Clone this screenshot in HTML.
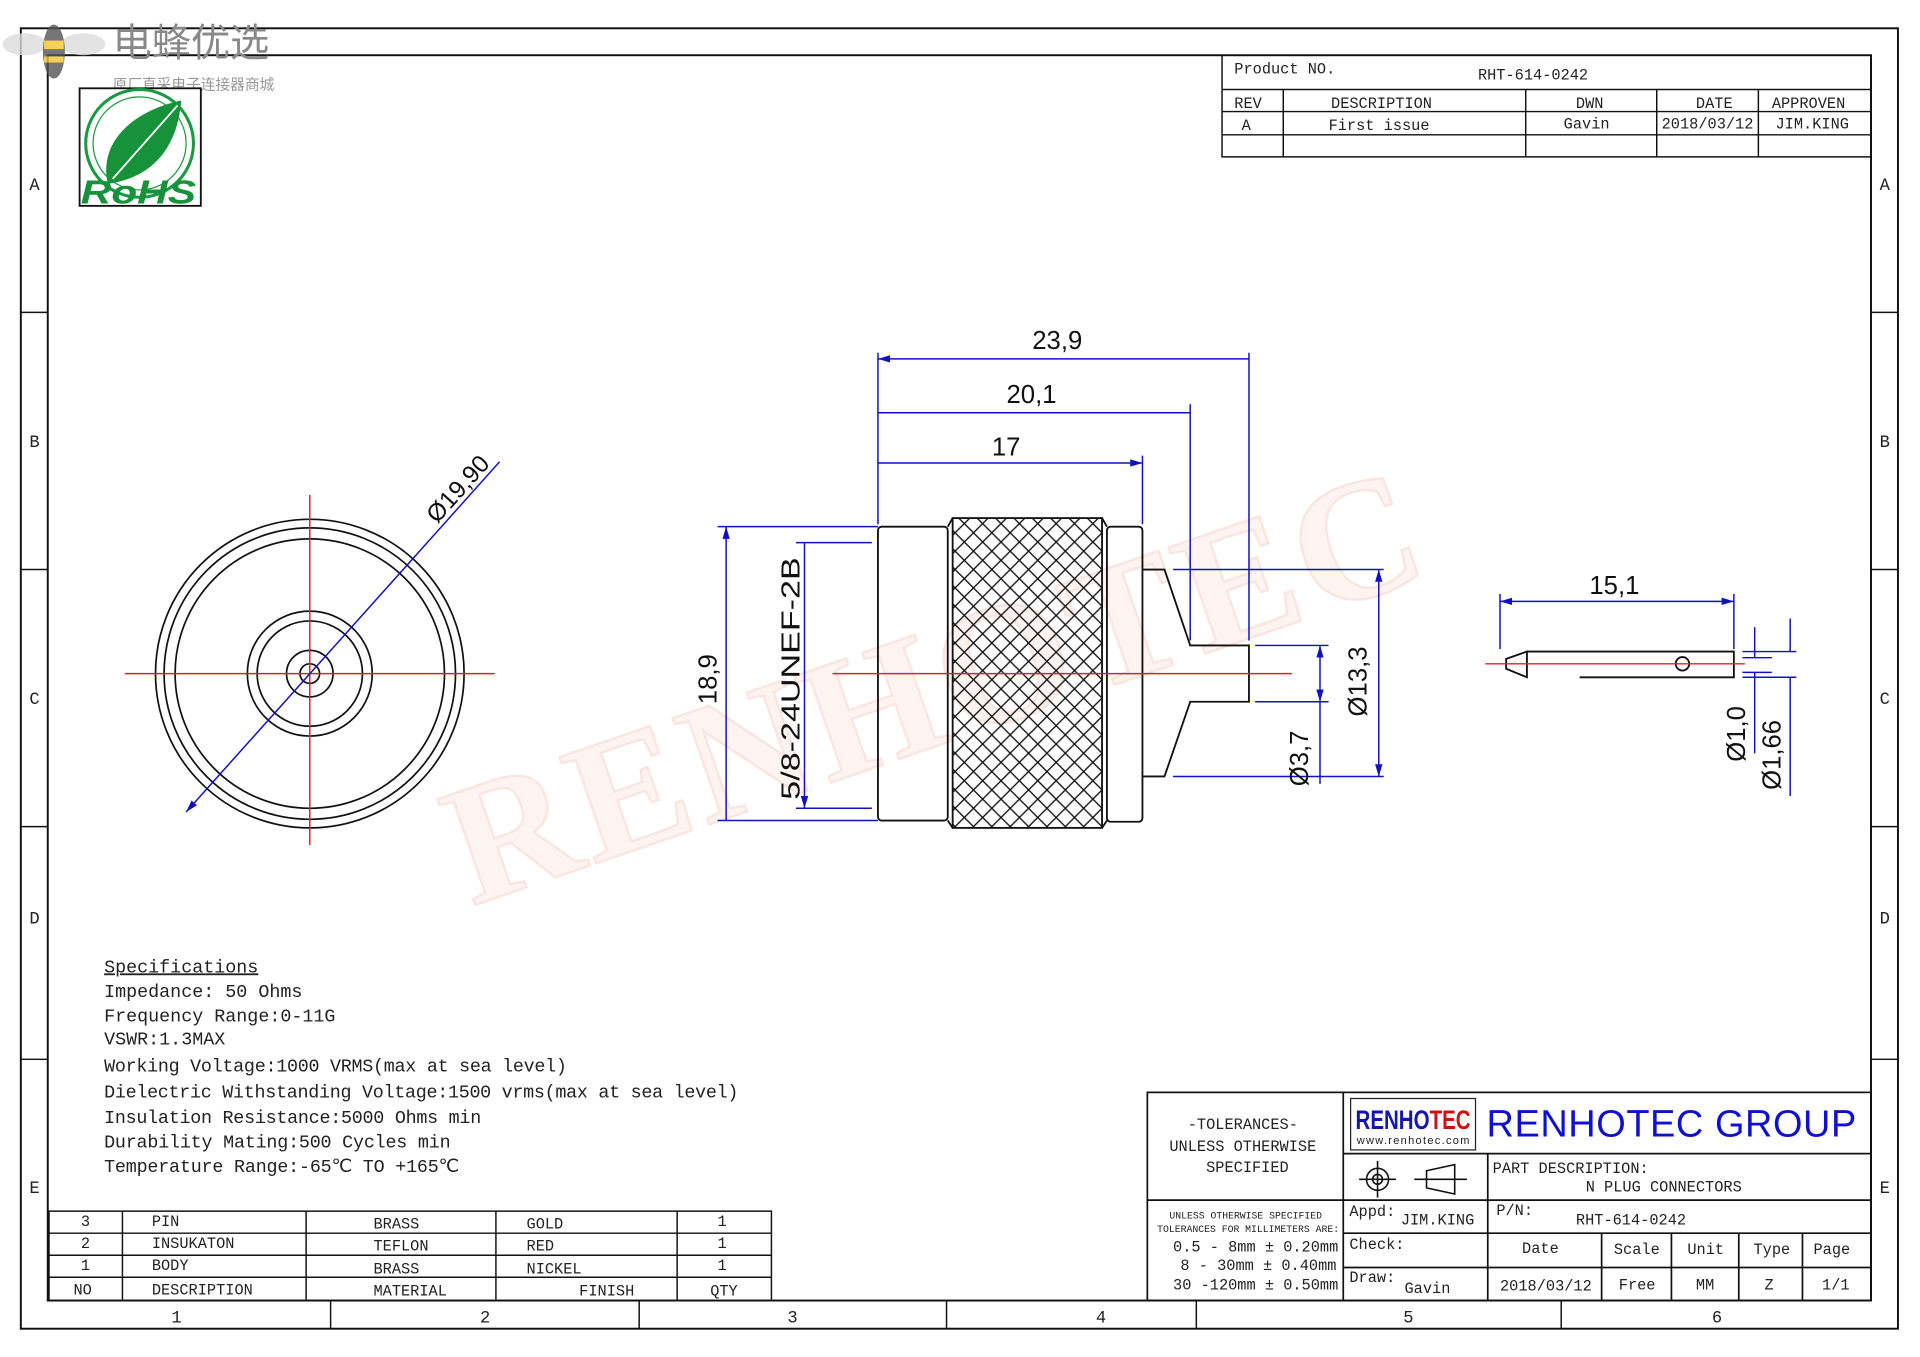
<!DOCTYPE html>
<html><head><meta charset="utf-8"><style>
html,body{margin:0;padding:0;background:#fff;width:1920px;height:1357px;overflow:hidden}
svg{display:block}
.t{font-family:"Liberation Mono",monospace;fill:#222}
.s{font-family:"Liberation Sans",sans-serif}
</style></head><body>
<svg width="1920" height="1357" viewBox="0 0 1568 1108" xmlns="http://www.w3.org/2000/svg">
<defs>
<pattern id="kn" width="15" height="15" patternUnits="userSpaceOnUse">
<path d="M0 0L15 15M15 0L0 15" stroke="#111" stroke-width="1.1"/>
</pattern>
<marker id="a" viewBox="0 0 10 6" refX="10" refY="3" markerWidth="10" markerHeight="6" orient="auto-start-reverse" markerUnits="userSpaceOnUse"><path d="M0 0L10 3L0 6z" fill="#1010c0"/></marker>
</defs>
<rect width="1568" height="1108" fill="#fff"/>
<!-- watermark -->
<text x="0" y="0" transform="translate(385,740) rotate(-19)" font-family="Liberation Serif,serif" font-weight="bold" font-size="140" fill="#fdeeea" stroke="#f8d4cc" stroke-width="2" opacity="0.6" textLength="830">RENHOTEC</text>
<!-- frames -->
<rect x="17" y="23" width="1533" height="1062" fill="none" stroke="#111" stroke-width="1.6"/>
<rect x="39" y="45" width="1489" height="1017" fill="none" stroke="#111" stroke-width="1.6"/>
<g stroke="#111" stroke-width="1.2">
<path d="M17 255H39M17 465H39M17 675H39M17 865H39M1528 255H1550M1528 465H1550M1528 675H1550M1528 865H1550"/>
<path d="M270 1062V1085M522 1062V1085M773 1062V1085M977 1062V1085M1275 1062V1085"/>
</g>
<g class="t" font-size="14">
<text x="24" y="155">A</text><text x="24" y="365">B</text><text x="24" y="575">C</text><text x="24" y="754">D</text><text x="24" y="974">E</text>
<text x="1535" y="155">A</text><text x="1535" y="365">B</text><text x="1535" y="575">C</text><text x="1535" y="754">D</text><text x="1535" y="974">E</text>
<text x="140" y="1080">1</text><text x="392" y="1080">2</text><text x="643" y="1080">3</text><text x="895" y="1080">4</text><text x="1146" y="1080">5</text><text x="1398" y="1080">6</text>
</g>
<!-- top-left logos -->
<g opacity="0.8">
<ellipse cx="20" cy="36" rx="18" ry="9" fill="#ddd"/><ellipse cx="68" cy="36" rx="18" ry="9" fill="#ddd"/>
<ellipse cx="44" cy="42" rx="9" ry="22" fill="#555"/><rect x="36" y="33" width="16" height="7" fill="#f4c430"/><rect x="36" y="46" width="16" height="5" fill="#f4c430"/>
</g>
<text x="92" y="46" font-family="Noto Sans CJK SC,sans-serif" font-size="32" fill="#888">电蜂优选</text>
<text x="92" y="73" font-family="Noto Sans CJK SC,sans-serif" font-size="12" fill="#999">原厂直采电子连接器商城</text>
<rect x="65" y="72" width="99" height="96" fill="#fff" stroke="#111" stroke-width="1.5"/>
<circle cx="114" cy="117" r="44" fill="none" stroke="#1a9a40" stroke-width="2.5"/>
<circle cx="114" cy="117" r="38" fill="none" stroke="#1a9a40" stroke-width="1"/>
<path d="M88 150C80 115 110 90 148 82C145 120 125 145 88 150z" fill="#17913a"/>
<path d="M92 146L145 86" stroke="#fff" stroke-width="1.5"/>
<text x="66" y="166" font-family="Liberation Sans,sans-serif" font-weight="bold" font-style="italic" font-size="27" fill="#17913a" textLength="94" lengthAdjust="spacingAndGlyphs">RoHS</text>
<!-- revision block -->
<g stroke="#111" stroke-width="1.2" fill="none">
<rect x="998" y="45" width="530" height="83"/>
<path d="M998 73H1528M998 91H1528M998 110H1528M1048 73V128M1246 73V128M1353 73V128M1436 73V128"/>
</g>
<g class="t" font-size="12.5">
<text x="1008" y="60">Product NO.</text><text x="1207" y="65">RHT-614-0242</text>
<text x="1008" y="88">REV</text><text x="1087" y="88">DESCRIPTION</text><text x="1287" y="88">DWN</text><text x="1385" y="88">DATE</text><text x="1447" y="88">APPROVEN</text>
<text x="1014" y="106">A</text><text x="1085" y="106">First issue</text><text x="1277" y="105">Gavin</text><text x="1357" y="105">2018/03/12</text><text x="1450" y="105">JIM.KING</text>
</g>
<!-- left view -->
<g fill="none" stroke="#111" stroke-width="1.4">
<circle cx="253" cy="550" r="126"/><circle cx="253" cy="550" r="119"/><circle cx="253" cy="550" r="110"/>
<circle cx="253" cy="550" r="51"/><circle cx="253" cy="550" r="43"/><circle cx="253" cy="550" r="19"/><circle cx="253" cy="550" r="8"/>
</g>
<path d="M102 550H404M253 404V690" stroke="#e02020" stroke-width="1.2"/>
<path d="M152 663L408 377" stroke="#1010c0" stroke-width="1.2" marker-start="url(#a)"/>
<text transform="translate(357,428) rotate(-48)" class="s" font-size="20" fill="#111">Ø19,90</text>
<!-- middle view -->
<g fill="none" stroke="#111" stroke-width="1.5">
<rect x="717" y="430" width="57" height="240" rx="3"/>
<rect x="778" y="423" width="122" height="253" fill="url(#kn)"/>
<path d="M774 430L778 423M774 670L778 676M900 423L904 430M900 676L904 670"/>
<rect x="904" y="430" width="29" height="241" rx="3"/>
<path d="M933 465H951L972 527H1020V573H972L951 634H933"/>
</g>
<path d="M680 550H1055" stroke="#e02020" stroke-width="1.2"/>
<g stroke="#1010c0" stroke-width="1.2" fill="none">
<path d="M717 288V428M1020 288V523M972 330V523M933 372V428"/>
<path d="M717 293H1020M717 337H972M717 378H933" marker-start="url(#a)" marker-end="url(#a)"/>
<path d="M586 430H717M586 670H717M650 443H712M650 660H712"/>
<path d="M593 430V670M657 443V660" marker-start="url(#a)" marker-end="url(#a)"/>
<path d="M958 465H1130M958 634H1130M1025 527H1085M1025 573H1085"/>
<path d="M1126 465V634" marker-start="url(#a)" marker-end="url(#a)"/>
<path d="M1078 527V573" marker-start="url(#a)" marker-end="url(#a)"/>
<path d="M1078 573V640"/>
</g>
<g class="s" font-size="21" fill="#111">
<text x="843" y="285">23,9</text><text x="822" y="329">20,1</text><text x="810" y="372">17</text>
<text transform="translate(585,575) rotate(-90)">18,9</text>
<text transform="translate(653,653) rotate(-90)" textLength="198" lengthAdjust="spacingAndGlyphs">5/8-24UNEF-2B</text>
<text transform="translate(1116,585) rotate(-90)">Ø13,3</text>
<text transform="translate(1068,642) rotate(-90)">Ø3,7</text>
</g>
<!-- right pin -->
<g fill="none" stroke="#111" stroke-width="1.5">
<path d="M1247 532H1416V553H1290M1247 532V553L1230 546V538Z"/>
<circle cx="1374" cy="542" r="5.5"/>
</g>
<path d="M1213 542H1425" stroke="#e02020" stroke-width="1.2"/>
<g stroke="#1010c0" stroke-width="1.2" fill="none">
<path d="M1225 485V530M1416 485V530"/>
<path d="M1225 491H1416" marker-start="url(#a)" marker-end="url(#a)"/>
<path d="M1423 537H1447M1423 549H1447M1423 532H1467M1423 553H1467"/>
<path d="M1433 512V537M1433 549V615M1462 505V532M1462 553V650"/>
</g>
<g class="s" font-size="21" fill="#111">
<text x="1298" y="485">15,1</text>
<text transform="translate(1425,622) rotate(-90)">Ø1,0</text>
<text transform="translate(1454,645) rotate(-90)">Ø1,66</text>
</g>
<!-- specs -->
<g class="t" font-size="15">
<text x="85" y="794" text-decoration="underline">Specifications</text>
<text x="85" y="814">Impedance: 50 Ohms</text>
<text x="85" y="834">Frequency Range:0-11G</text>
<text x="85" y="853">VSWR:1.3MAX</text>
<text x="85" y="875" textLength="378">Working Voltage:1000 VRMS(max at sea level)</text>
<text x="85" y="896" textLength="518">Dielectric Withstanding Voltage:1500 vrms(max at sea level)</text>
<text x="85" y="917" textLength="308">Insulation Resistance:5000 Ohms min</text>
<text x="85" y="937" textLength="283">Durability Mating:500 Cycles min</text>
<text x="85" y="957" textLength="290">Temperature Range:-65℃ TO +165℃</text>
</g>
<!-- BOM -->
<g stroke="#111" stroke-width="1.2" fill="none">
<rect x="40" y="989" width="590" height="73"/>
<path d="M40 1007H630M40 1025H630M40 1043H630M100 989V1062M250 989V1062M405 989V1062M553 989V1062"/>
</g>
<g class="t" font-size="12.5">
<text x="66" y="1001">3</text><text x="124" y="1001">PIN</text><text x="305" y="1003">BRASS</text><text x="430" y="1003">GOLD</text><text x="586" y="1001">1</text>
<text x="66" y="1019">2</text><text x="124" y="1019">INSUKATON</text><text x="305" y="1021">TEFLON</text><text x="430" y="1021">RED</text><text x="586" y="1019">1</text>
<text x="66" y="1037">1</text><text x="124" y="1037">BODY</text><text x="305" y="1040">BRASS</text><text x="430" y="1040">NICKEL</text><text x="586" y="1037">1</text>
<text x="60" y="1057">NO</text><text x="124" y="1057">DESCRIPTION</text><text x="305" y="1058">MATERIAL</text><text x="473" y="1058">FINISH</text><text x="580" y="1058">QTY</text>
</g>
<!-- title block -->
<g stroke="#111" stroke-width="1.4" fill="none">
<rect x="937" y="892" width="591" height="170"/>
<path d="M1097 892V1062M937 980H1097M1097 942H1528M1097 980H1528M1097 1007H1528M1097 1035H1528M1215 942V1062M1308 1007V1062M1365 1007V1062M1420 1007V1062M1472 1007V1062"/>
</g>
<rect x="1103" y="897" width="102" height="42" fill="#fff" stroke="#222" stroke-width="1"/>
<text x="1107" y="922" font-family="Liberation Sans Narrow,Liberation Sans,sans-serif" font-weight="bold" font-size="22" fill="#1515b0" textLength="94" lengthAdjust="spacingAndGlyphs">RENHO<tspan fill="#d01010">TEC</tspan></text>
<text x="1108" y="934" class="s" font-size="9" fill="#222" textLength="92">www.renhotec.com</text>
<text x="1214" y="928" class="s" font-size="31" fill="#1010d0" textLength="302">RENHOTEC GROUP</text>
<g stroke="#111" stroke-width="1.3" fill="none">
<circle cx="1125" cy="963" r="9"/><circle cx="1125" cy="963" r="4"/><path d="M1110 963H1140M1125 948V978"/>
<path d="M1155 963H1198M1165 956L1188 951V975L1165 970Z"/>
</g>
<g class="t" font-size="12.5">
<text x="970" y="922">-TOLERANCES-</text><text x="955" y="940">UNLESS OTHERWISE</text><text x="985" y="957">SPECIFIED</text>
<text x="955" y="995" font-size="8">UNLESS OTHERWISE SPECIFIED</text><text x="945" y="1006" font-size="8">TOLERANCES FOR MILLIMETERS ARE:</text>
<text x="958" y="1022">0.5 - 8mm ± 0.20mm</text><text x="964" y="1037">8 - 30mm ± 0.40mm</text><text x="958" y="1053">30 -120mm ± 0.50mm</text>
<text x="1219" y="958">PART DESCRIPTION:</text><text x="1295" y="973">N PLUG CONNECTORS</text>
<text x="1102" y="993">Appd:</text><text x="1144" y="1000">JIM.KING</text>
<text x="1222" y="992">P/N:</text><text x="1287" y="1000">RHT-614-0242</text>
<text x="1102" y="1020">Check:</text><text x="1102" y="1047">Draw:</text><text x="1147" y="1056">Gavin</text>
<text x="1243" y="1023">Date</text><text x="1318" y="1024">Scale</text><text x="1378" y="1024">Unit</text><text x="1432" y="1024">Type</text><text x="1481" y="1024">Page</text>
<text x="1225" y="1054">2018/03/12</text><text x="1322" y="1053">Free</text><text x="1385" y="1053">MM</text><text x="1441" y="1053">Z</text><text x="1488" y="1053">1/1</text>
</g>
</svg>
</body></html>
